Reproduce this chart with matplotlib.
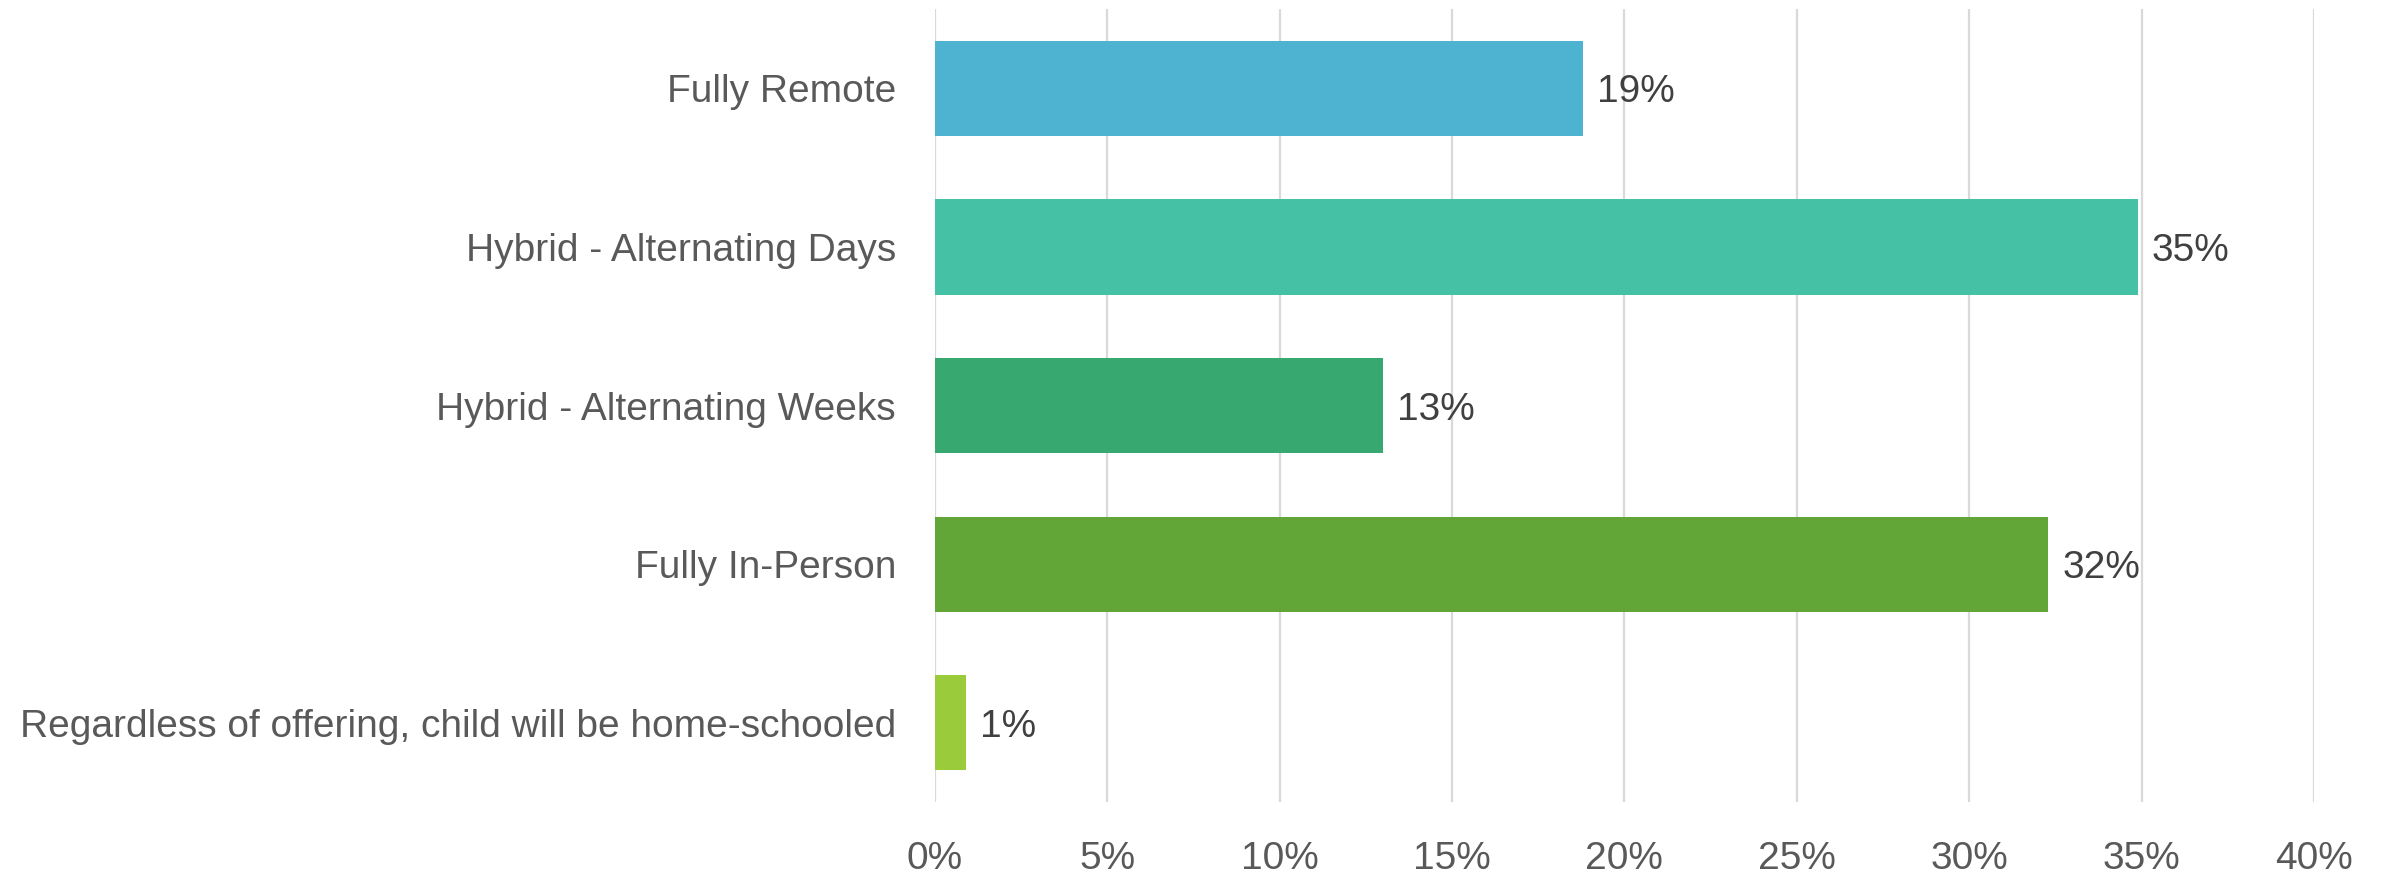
import matplotlib
matplotlib.use("Agg")
import matplotlib.pyplot as plt
from matplotlib.ticker import PercentFormatter

categories = ["Fully Remote", "Hybrid - Alternating Days", "Hybrid - Alternating Weeks",
              "Fully In-Person", "Regardless of offering, child will be home-schooled"]
values = [18.8, 34.9, 13.0, 32.3, 0.9]
labels = ["19%", "35%", "13%", "32%", "1%"]
colors = ["#4EB3D1", "#45C2A5", "#37A870", "#63A638", "#9ACB3A"]
xticks = [0, 5, 10, 15, 20, 25, 30, 35, 40]

plt.rcParams["font.family"] = ["Liberation Sans", "DejaVu Sans"]

fig = plt.figure(figsize=(23.82, 8.77), dpi=100)
ax = fig.add_axes([0.3925, 0.0855, 0.5789, 0.9042])

y = list(range(len(categories)))
ax.barh(y, values, height=0.6, color=colors, zorder=3)
for yi, v, lab in zip(y, values, labels):
    ax.annotate(lab, (v, yi), xytext=(10, -3), textcoords="offset points",
                va="center", ha="left", fontsize=28, color="#404040")

ax.set_xlim(0, 40)
ax.set_ylim(4.5, -0.5)
ax.set_xticks(xticks)
ax.xaxis.set_major_formatter(PercentFormatter(decimals=0))
ax.set_yticks(y)
ax.set_yticklabels(categories)
ax.tick_params(axis="both", length=0, labelsize=28, labelcolor="#595959")
ax.tick_params(axis="y", pad=28)
ax.tick_params(axis="x", pad=28)
ax.grid(axis="x", color="#D9D9D9", linewidth=1.6, zorder=0)
for s in ax.spines.values():
    s.set_visible(False)

fig.savefig("out.png", dpi=100)
